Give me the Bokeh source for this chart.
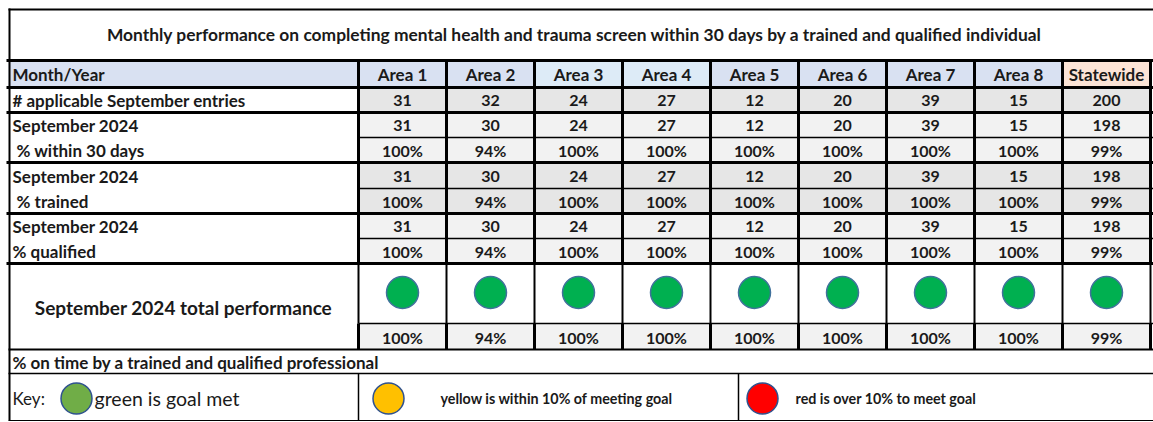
from bokeh.plotting import figure
from bokeh.models import Range1d
from bokeh.core.properties import value
from bokeh.embed import file_html
from bokeh.resources import INLINE

# ---------------- data ----------------
title = ("Monthly performance on completing mental health and trauma screen "
         "within 30 days by a trained and qualified individual")
areas = ["Area 1", "Area 2", "Area 3", "Area 4", "Area 5", "Area 6", "Area 7", "Area 8", "Statewide"]
applicable = [31, 32, 24, 27, 12, 20, 39, 15, 200]
within_count = [31, 30, 24, 27, 12, 20, 39, 15, 198]
within_pct = [100, 94, 100, 100, 100, 100, 100, 100, 99]
trained_count = [31, 30, 24, 27, 12, 20, 39, 15, 198]
trained_pct = [100, 94, 100, 100, 100, 100, 100, 100, 99]
qualified_count = [31, 30, 24, 27, 12, 20, 39, 15, 198]
qualified_pct = [100, 94, 100, 100, 100, 100, 100, 100, 99]
total_pct = [100, 94, 100, 100, 100, 100, 100, 100, 99]
row_labels = ["Month/Year", "# applicable September entries",
              "September 2024", "% within 30 days",
              "September 2024", "% trained",
              "September 2024", "% qualified"]
total_label = "September 2024 total performance"
note_label = "% on time by a trained and qualified professional"
key_label = "Key:"
key_texts = ["green is goal met", "yellow is within 10% of meeting goal", "red is over 10% to meet goal"]
GOAL = 90

# ---------------- layout ----------------
FONT = value("Lato")
TXT = "#1a1a1a"
p = figure(width=1153, height=422, x_range=Range1d(0, 1153), y_range=Range1d(422, 0),
           output_backend="svg", toolbar_location=None, min_border=0)
p.axis.visible = False
p.grid.visible = False
p.outline_line_color = None
p.background_fill_color = "white"

LX0, LX1 = 8, 358
CW = 88
edges = [LX1 + CW * i for i in range(len(areas) + 1)]
cx = [(edges[i] + edges[i + 1]) / 2 for i in range(len(areas))]
cl = edges[:-1]
cr = edges[1:]
XR = 1160

T_TOP, HDR, APP = 8, 60, 87
G = [112, 137, 162, 188, 213, 238, 263]
CIRC, PCT, NOTE, KEY, BOT = 263, 323, 349, 373, 420

# header fills
hdr_colors = ["#D9E1F2", "#D9E1F2", "#DDEBF7", "#DDEBF7", "#D9E1F2", "#D9E1F2", "#D9E1F2", "#D9E1F2", "#FCE4D6"]
p.quad(left=[LX0], right=[LX1], top=[HDR], bottom=[APP], fill_color="#D9E1F2", line_color=None)
p.quad(left=cl, right=cr, top=[HDR] * 9, bottom=[APP] * 9, fill_color=hdr_colors, line_color=None)

# data row fills
band_rows = [(APP, G[0], "#E6E6E6"), (G[0], G[1], "#F2F2F2"), (G[1], G[2], "#F2F2F2"),
             (G[2], G[3], "#E6E6E6"), (G[3], G[4], "#E6E6E6"),
             (G[4], G[5], "#F2F2F2"), (G[5], G[6], "#F2F2F2"), (PCT, NOTE, "#F2F2F2")]
for t, b, c in band_rows:
    p.quad(left=cl, right=cr, top=[t] * 9, bottom=[b] * 9, fill_color=c, line_color=None)

def centers(a, b):
    return (a + b) / 2 + 0.5

def vals(v, pct=False):
    return [f"{x}%" if pct else str(x) for x in v]

def ctext(ys, texts, size="16px", style="bold"):
    p.text(x=cx, y=[ys] * len(texts), text=texts, text_align="center", text_baseline="middle",
           text_font=FONT, text_font_style=style, text_font_size=size, text_color=TXT)

ctext(centers(HDR, APP), areas, size="17px")
ctext(centers(APP, G[0]), vals(applicable))
ctext(centers(G[0], G[1]), vals(within_count))
ctext(centers(G[1], G[2]), vals(within_pct, True))
ctext(centers(G[2], G[3]), vals(trained_count))
ctext(centers(G[3], G[4]), vals(trained_pct, True))
ctext(centers(G[4], G[5]), vals(qualified_count))
ctext(centers(G[5], G[6]), vals(qualified_pct, True))
ctext(centers(PCT, NOTE), vals(total_pct, True))

# label column
label_y = [centers(HDR, APP), centers(APP, G[0]), centers(G[0], G[1]), centers(G[1], G[2]),
           centers(G[2], G[3]), centers(G[3], G[4]), centers(G[4], G[5]), centers(G[5], G[6])]
label_x = [12, 12, 12, 16, 12, 16, 12, 12]
p.text(x=label_x, y=label_y, text=row_labels, text_align="left", text_baseline="middle",
       text_font=FONT, text_font_style="bold", text_font_size="17px", text_color=TXT)
p.text(x=[(LX0 + LX1) / 2], y=[307], text=[total_label], text_align="center", text_baseline="middle",
       text_font=FONT, text_font_style="bold", text_font_size="19px", text_color=TXT)
p.text(x=[574], y=[34], text=[title], text_align="center", text_baseline="middle",
       text_font=FONT, text_font_style="bold", text_font_size="17.4px", text_color=TXT)
p.text(x=[12], y=[centers(NOTE, KEY)], text=[note_label], text_align="left", text_baseline="middle",
       text_font=FONT, text_font_style="bold", text_font_size="17px", text_color=TXT)

# status circles
def status(v):
    if v >= GOAL:
        return "#00B050"
    if v >= GOAL - 10:
        return "#FFC000"
    return "#FF0000"

p.scatter(x=cx, y=[292] * 9, size=32, marker="circle", fill_color=[status(v) for v in total_pct],
          line_color="#41719C", line_width=1.5)

# key row
ky = 398
p.scatter(x=[76, 388, 762], y=[ky] * 3, size=31, marker="circle",
          fill_color=["#70AD47", "#FFC000", "#FF0000"], line_color="#2F528F", line_width=1.5)
p.text(x=[12], y=[ky], text=[key_label], text_align="left", text_baseline="middle",
       text_font=FONT, text_font_size="17px", text_color=TXT)
p.text(x=[94], y=[ky], text=[key_texts[0]], text_align="left", text_baseline="middle",
       text_font=FONT, text_font_size="19.5px", text_color=TXT)
p.text(x=[440, 795], y=[ky] * 2, text=key_texts[1:], text_align="left", text_baseline="middle",
       text_font=FONT, text_font_style="bold", text_font_size="14.3px", text_color=TXT)

# ---------------- borders ----------------
def hl(y, x0, x1, w):
    p.segment(x0=[x0], y0=[y], x1=[x1], y1=[y], line_color="black", line_width=w)

def vl(x, y0, y1, w):
    p.segment(x0=[x], y0=[y0], x1=[x], y1=[y1], line_color="black", line_width=w)

hl(T_TOP + 1, LX0, XR, 2)
vl(LX0 + 1, T_TOP, BOT, 2)
for y in [HDR, APP, G[0], G[2], G[4], G[6]]:
    hl(y, LX0 - 2, XR, 3)
for y in [G[1], G[3], G[5], PCT]:
    hl(y, LX1, XR, 1.5)
hl(NOTE, LX0, XR, 2)
hl(KEY, LX0, XR, 1.5)
hl(BOT, LX0, XR, 1)
for x in edges:
    vl(x, HDR, CIRC, 3)
    vl(x, CIRC, PCT, 2)
    vl(x, PCT, NOTE, 3)
vl(LX1, KEY, BOT, 1.5)
vl(738, KEY, BOT, 1.5)

open("out.html", "w").write(file_html(p, INLINE))
